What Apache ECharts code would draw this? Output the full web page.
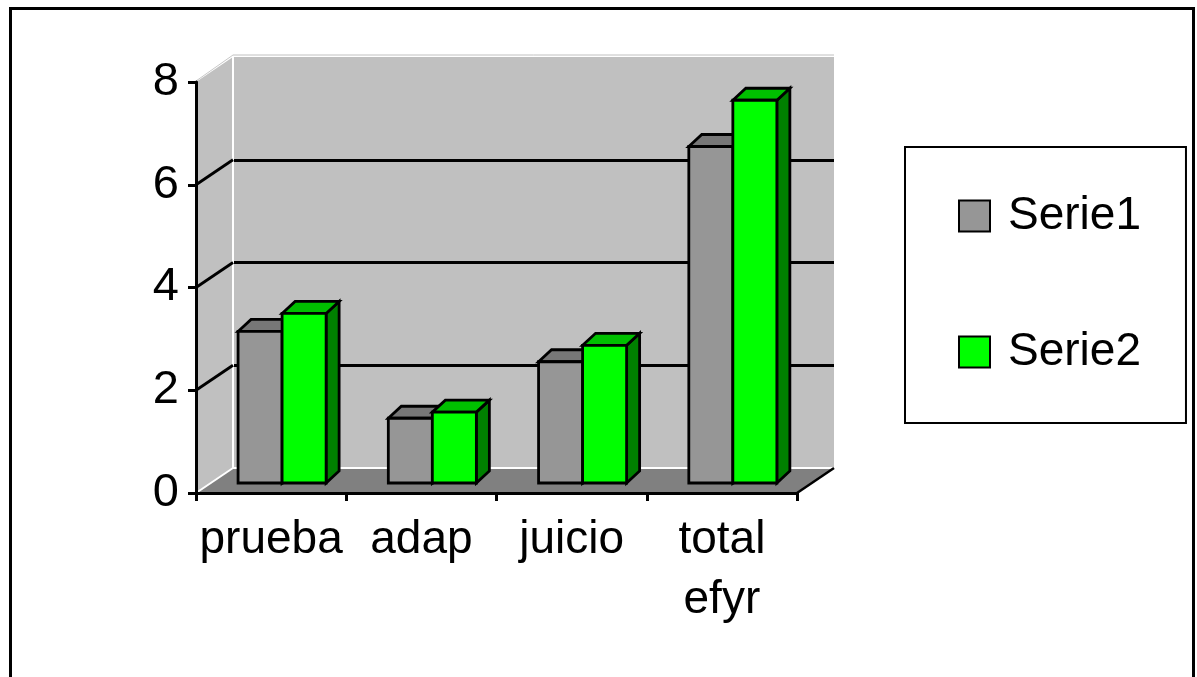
<!DOCTYPE html>
<html>
<head>
<meta charset="utf-8">
<script src="https://cdn.jsdelivr.net/npm/echarts@6/dist/echarts.min.js"></script>
<style>
html,body{margin:0;padding:0;background:#fff;}
#chart{width:1197px;height:677px;}
</style>
</head>
<body>
<div id="chart"></div>
<script>
// ---- data ----
const categories = ['prueba', 'adap', 'juicio', 'total\nefyr'];
const seriesNames = ['Serie1', 'Serie2'];
const serie1 = [2.95, 1.26, 2.36, 6.55];
const serie2 = [3.3, 1.38, 2.68, 7.45];
const yMin = 0, yMax = 8, yStep = 2;

// ---- style constants ----
const FONT = 'Liberation Sans, Arial, sans-serif';
const DEPTH_X = 37, DEPTH_Y = -25;      // wall depth (pixels)
const BAR_SHIFT_Y = -10;                // bars sit a little back from front edge
const BAR_DX = 13, BAR_DY = -12;        // bar depth
const colors = [
  {front: '#969696', top: '#777777', side: '#5f5f5f'},
  {front: '#00ff00', top: '#00c000', side: '#008000'}
];

const chart = echarts.init(document.getElementById('chart'), null, {renderer: 'canvas'});

function wallsRender(params, api) {
  const cs = params.coordSys;
  const x = cs.x, y = cs.y, w = cs.width, h = cs.height;
  const children = [];
  // left wall
  children.push({type: 'polygon', shape: {points: [[x, y], [x + DEPTH_X, y + DEPTH_Y], [x + DEPTH_X, y + h + DEPTH_Y], [x, y + h]]},
    style: {fill: '#c0c0c0'}});
  // floor
  children.push({type: 'polygon', shape: {points: [[x, y + h], [x + DEPTH_X, y + h + DEPTH_Y], [x + w + DEPTH_X, y + h + DEPTH_Y], [x + w, y + h]]},
    style: {fill: '#808080'}});
  // white edges
  children.push({type: 'line', shape: {x1: x + DEPTH_X, y1: y + DEPTH_Y, x2: x + DEPTH_X, y2: y + h + DEPTH_Y}, style: {stroke: '#fff', lineWidth: 2}});
  children.push({type: 'line', shape: {x1: x + DEPTH_X, y1: y + h + DEPTH_Y, x2: x + w + DEPTH_X, y2: y + h + DEPTH_Y}, style: {stroke: '#fff', lineWidth: 2}});
  children.push({type: 'line', shape: {x1: x, y1: y + h, x2: x + DEPTH_X, y2: y + h + DEPTH_Y}, style: {stroke: '#fff', lineWidth: 2}});
  // top edges (light)
  children.push({type: 'line', shape: {x1: x, y1: y - 1, x2: x + DEPTH_X, y2: y + DEPTH_Y - 2}, style: {stroke: '#c8c8c8', lineWidth: 1}});
  children.push({type: 'line', shape: {x1: x + DEPTH_X, y1: y + DEPTH_Y - 2, x2: x + w + DEPTH_X, y2: y + DEPTH_Y - 2}, style: {stroke: '#c0c0c0', lineWidth: 1}});
  // floor right edge
  children.push({type: 'line', shape: {x1: x + w, y1: y + h, x2: x + w + DEPTH_X, y2: y + h + DEPTH_Y}, style: {stroke: '#000', lineWidth: 2.5}});
  // gridline diagonals on left wall
  for (let v = yMin + yStep; v < yMax; v += yStep) {
    const yv = api.coord([0, v])[1];
    children.push({type: 'line', shape: {x1: x, y1: yv, x2: x + DEPTH_X, y2: yv + DEPTH_Y}, style: {stroke: '#000', lineWidth: 2.8}});
  }
  return {type: 'group', children: children};
}

function makeBarRender(which) {
  return function (params, api) {
    const i = api.value(0), v = api.value(1);
    const c0 = api.coord([i, 0]);
    const c1 = api.coord([i, v]);
    const band = api.size([1, 0])[0];
    const bw = band * 0.293;
    const pairCenter = c0[0] + band * 0.073;
    const left = which === 0 ? pairCenter - bw : pairCenter;
    const bottom = c0[1] + BAR_SHIFT_Y;
    const top = c1[1] + BAR_SHIFT_Y;
    const col = colors[which];
    const stroke = {stroke: '#000', lineWidth: 2.8, lineJoin: 'miter'};
    return {type: 'group', children: [
      {type: 'polygon', shape: {points: [[left + bw, top], [left + bw + BAR_DX, top + BAR_DY], [left + bw + BAR_DX, bottom + BAR_DY], [left + bw, bottom]]},
        style: Object.assign({fill: col.side}, stroke)},
      {type: 'polygon', shape: {points: [[left, top], [left + BAR_DX, top + BAR_DY], [left + bw + BAR_DX, top + BAR_DY], [left + bw, top]]},
        style: Object.assign({fill: col.top}, stroke)},
      {type: 'rect', shape: {x: left, y: top, width: bw, height: bottom - top},
        style: Object.assign({fill: col.front}, stroke)}
    ]};
  };
}

const option = {
  backgroundColor: '#fff',
  animation: false,
  textStyle: {fontFamily: FONT},
  graphic: [{
    type: 'rect', z: 100, silent: true,
    shape: {x: 10.5, y: 8.5, width: 1183, height: 720},
    style: {fill: 'none', stroke: '#000', lineWidth: 3}
  }],
  grid: [
    {left: 196, top: 82, right: 400, bottom: 184, containLabel: false},
    {left: 196 + DEPTH_X, top: 82 + DEPTH_Y, right: 400 - DEPTH_X, bottom: 184 - DEPTH_Y,
      show: true, backgroundColor: '#c0c0c0', borderWidth: 0, z: 0}
  ],
  xAxis: [
    {type: 'category', gridIndex: 0, data: categories, boundaryGap: true, z: 5,
      axisLine: {show: true, lineStyle: {color: '#000', width: 3}},
      axisTick: {show: true, length: 8, lineStyle: {color: '#000', width: 3}},
      axisLabel: {color: '#000', fontSize: 46, fontFamily: FONT, margin: 17, lineHeight: 60, interval: 0},
      splitLine: {show: false}},
    {type: 'category', gridIndex: 1, data: categories, show: false}
  ],
  yAxis: [
    {type: 'value', gridIndex: 0, min: yMin, max: yMax, interval: yStep, z: 5,
      axisLine: {show: true, lineStyle: {color: '#000', width: 3}},
      axisTick: {show: true, length: 8, lineStyle: {color: '#000', width: 3}},
      axisLabel: {color: '#000', fontSize: 47, fontFamily: FONT, margin: 17},
      splitLine: {show: false}},
    {type: 'value', gridIndex: 1, min: yMin, max: yMax, interval: yStep, z: 0,
      axisLine: {show: false}, axisTick: {show: false}, axisLabel: {show: false},
      splitLine: {show: true, showMinLine: false, showMaxLine: false, lineStyle: {color: '#000', width: 2.8}}}
  ],
  legend: {
    orient: 'vertical', left: 905, top: 147,
    itemWidth: 31, itemHeight: 31, itemGap: 90,
    padding: [46, 45, 48, 53],
    borderColor: '#000', borderWidth: 2, backgroundColor: '#fff',
    selectedMode: false,
    textStyle: {fontSize: 46, fontFamily: FONT, color: '#000', lineHeight: 31, padding: [0, 0, 0, 13]},
    data: [
      {name: seriesNames[0], icon: 'rect', itemStyle: {color: colors[0].front, borderColor: '#000', borderWidth: 2}},
      {name: seriesNames[1], icon: 'rect', itemStyle: {color: colors[1].front, borderColor: '#000', borderWidth: 2}}
    ]
  },
  series: [
    {type: 'custom', name: 'walls', xAxisIndex: 0, yAxisIndex: 0, z: 1, silent: true,
      renderItem: wallsRender, data: [[0, 0]]},
    {type: 'custom', name: seriesNames[0], xAxisIndex: 0, yAxisIndex: 0, z: 3,
      itemStyle: {color: colors[0].front},
      renderItem: makeBarRender(0), data: serie1.map((v, i) => [i, v])},
    {type: 'custom', name: seriesNames[1], xAxisIndex: 0, yAxisIndex: 0, z: 4,
      itemStyle: {color: colors[1].front},
      renderItem: makeBarRender(1), data: serie2.map((v, i) => [i, v])}
  ]
};
chart.setOption(option);
</script>
</body>
</html>
